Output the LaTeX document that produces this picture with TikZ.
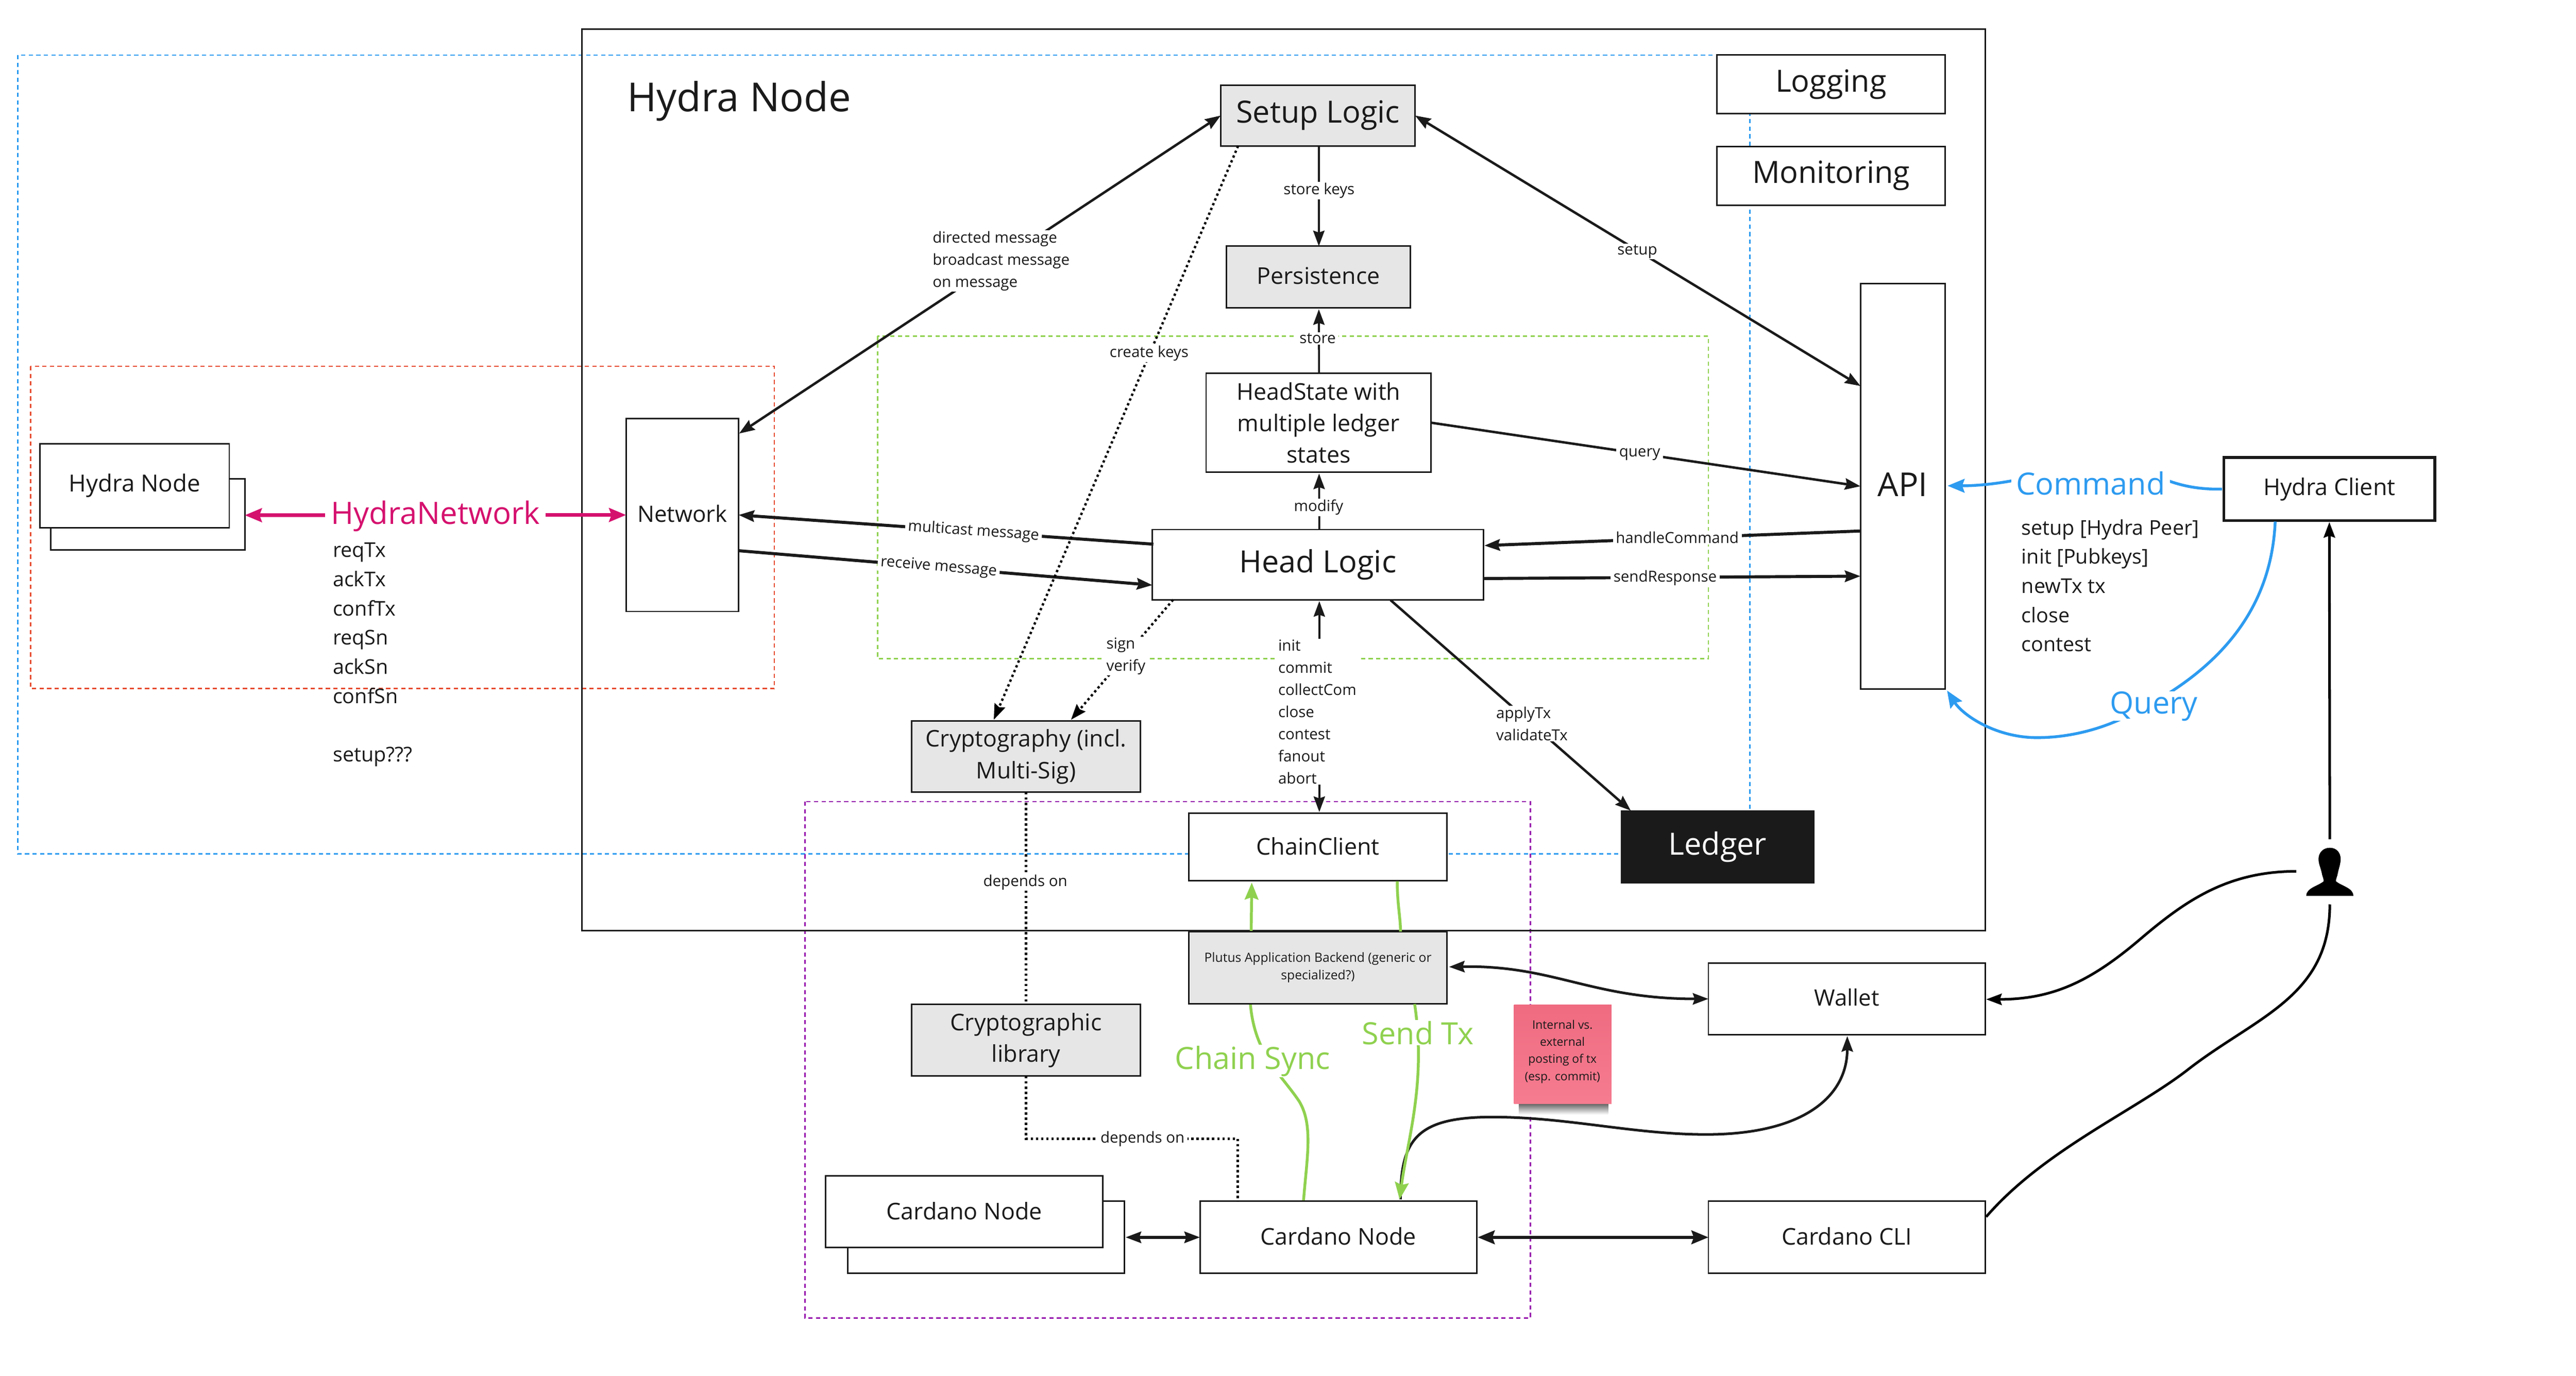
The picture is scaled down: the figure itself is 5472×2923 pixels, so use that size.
\documentclass[tikz,border=0pt]{standalone}
\usepackage{fontspec}
\setmainfont{Open Sans}
\usetikzlibrary{arrows.meta,calc}
\definecolor{ink}{HTML}{1A1A1A}
\definecolor{grayfill}{HTML}{E6E6E6}
\definecolor{bluec}{HTML}{2D9BF0}
\definecolor{redc}{HTML}{E6492D}
\definecolor{greenc}{HTML}{8FD14F}
\definecolor{purplec}{HTML}{9510AC}
\definecolor{pinkc}{HTML}{D5116E}
\definecolor{notea}{HTML}{EF6B80}
\definecolor{noteb}{HTML}{F67C90}
\tikzset{
  fs/.style 2 args={font=\fontsize{#1}{#2}\selectfont},
  tip/.tip={Stealth[length=33pt,width=24pt,inset=4pt]},
  bigtip/.tip={Stealth[length=36pt,width=29pt,inset=5pt]},
  boxn/.style={draw=ink,line width=3.2pt,fill=white,inner sep=0pt,outer sep=0pt,anchor=north west,text=ink,align=center},
  grayn/.style={boxn,fill=grayfill},
  blab/.style={fs={32.3}{47},fill=white,inner xsep=6pt,inner ysep=2pt,text=ink,align=left},
  flab/.style={fs={43.2}{62},inner sep=0pt,text=ink,align=left,anchor=north west},
  conn/.style={draw=ink,line width=5.2pt,tip-tip},
  thinconn/.style={draw=ink,line width=4.2pt,-tip},
  thick conn/.style={draw=ink,line width=6.5pt},
  dots/.style={draw=black,line width=5pt,dash pattern=on 5pt off 6pt},
  region/.style={line width=3pt,dash pattern=on 9pt off 7pt},
  greenline/.style={draw=greenc,line width=6pt},
  blueline/.style={draw=bluec,line width=6pt},
  pinkline/.style={draw=pinkc,line width=8pt,-bigtip},
}
\newcommand{\bx}[7]{\pgfmathsetmacro{\bw}{#4-#2}\pgfmathsetmacro{\bh}{#5-#3}
  \node[#6,minimum width=\bw pt,minimum height=\bh pt] (#1) at (#2,#3) {#7};}
\newcommand{\up}[2]{\raisebox{#1pt}{#2}}
\begin{document}
\begin{tikzpicture}[x=1pt,y=-1pt]
\useasboundingbox (0,0) rectangle (5472,2923);
\fill[white] (0,0) rectangle (5472,2923);
% regions
\draw[region,draw=bluec] (38,117) rectangle (3717,1814);
\draw[region,draw=redc] (65,778) rectangle (1645,1463);
\draw[region,draw=greenc] (1864,714) rectangle (3629,1399);
\draw[region,draw=purplec] (1710,1703) rectangle (3251,2800);
\draw[ink,line width=3pt] (1236,62) rectangle (4217,1977);
\node[fs={85}{100},text=ink,inner sep=0pt] (title) at (1570,215) {Hydra Node};
% green behind Plutus
\draw[greenline,-bigtip] (2769,2550) .. controls (2776,2460) and (2790,2390) .. (2760,2340) .. controls (2720,2280) and (2665,2240) .. (2656,2132) -- (2659,1875);
% boxes
\bx{hnb}{108}{1017}{520}{1168}{boxn}{}
\bx{hn}{85}{943}{487}{1121}{boxn,fs={50}{66}}{Hydra Node}
\bx{net}{1330}{889}{1569}{1299}{boxn,fs={48}{66}}{\up{6}{Network}}
\bx{setup}{2593}{181}{3006}{310}{grayn,fs={65}{80}}{Setup Logic}
\bx{pers}{2605}{523}{2996}{654}{grayn,fs={49}{66}}{\up{6}{Persistence}}
\bx{hs}{2562}{793}{3040}{1003}{boxn,fs={49}{66.6}}{HeadState with\\multiple ledger\\states}
\bx{hl}{2448}{1125}{3151}{1274}{boxn,fs={65}{80}}{Head Logic}
\bx{log}{3647}{117}{4132}{241}{boxn,fs={65}{80}}{Logging}
\bx{mon}{3647}{311}{4132}{436}{boxn,fs={65}{80}}{Monitoring}
\bx{api}{3952}{602}{4132}{1464}{boxn,fs={70}{80}}{\up{7}{API}}
\bx{hc}{4724}{972}{5172}{1106}{boxn,line width=6pt,fs={49}{66}}{\up{-2}{Hydra Client}}
\bx{cry}{1937}{1532}{2422}{1683}{grayn,fs={48.7}{67}}{\up{3}{Cryptography (incl.}\\\up{3}{Multi-Sig)}}
\bx{cc}{2525}{1727}{3074}{1871}{boxn,fs={49}{66}}{\up{4}{ChainClient}}
\bx{led}{3444}{1723}{3853}{1875}{boxn,draw=ink,fill=ink,text=white,fs={65}{80}}{Ledger}
\bx{pab}{2525}{1979}{3074}{2132}{grayn,fs={27}{37}}{Plutus Application Backend (generic or\\specialized?)}
\bx{lib}{1937}{2134}{2422}{2286}{grayn,fs={49}{67}}{Cryptographic\\library}
\bx{cnb}{1801}{2552}{2389}{2705}{boxn}{}
\bx{cnf}{1754}{2498}{2343}{2650}{boxn,fs={49}{66}}{\up{4}{Cardano Node}}
\bx{cn}{2549}{2552}{3137}{2705}{boxn,fs={49}{66}}{\up{6}{Cardano Node}}
\bx{wal}{3629}{2046}{4217}{2198}{boxn,fs={48}{66}}{\up{6}{Wallet}}
\bx{cli}{3629}{2552}{4217}{2705}{boxn,fs={49}{66}}{\up{6}{Cardano CLI}}
% sticky note
\shade[top color=black!60,bottom color=white] (3226,2345) rectangle (3416,2368);
\shade[top color=notea,bottom color=noteb] (3216,2135) rectangle (3423,2345);
\node[fs={25}{36.5},text=ink,align=center,inner sep=0pt] (note) at (3319,2234) {Internal vs.\\external\\posting of tx\\(esp. commit)};
% user icon
\node[minimum width=100pt,minimum height=102pt,inner sep=0pt] (user) at (4949,1852) {};
\fill[black] (4949,1801) .. controls (4934,1801) and (4925,1812) .. (4925,1825) .. controls (4925,1835) and (4930,1845) .. (4932,1855) .. controls (4933,1862) and (4936,1866) .. (4936,1872) .. controls (4925,1882) and (4899,1886) .. (4899,1903) -- (4999,1903) .. controls (4999,1886) and (4973,1882) .. (4962,1872) .. controls (4962,1866) and (4965,1862) .. (4966,1855) .. controls (4968,1845) and (4972,1835) .. (4972,1825) .. controls (4972,1812) and (4964,1801) .. (4949,1801) -- cycle;
% connectors
\draw[conn] ($(net.north east)+(1,32)$) -- (setup.west);
\draw[conn] (setup.east) -- ($(api.north west)+(0,218)$);
\draw[thinconn] ($(setup.south)+(2,0)$) -- ($(pers.north)+(1,0)$);
\draw[thinconn] ($(hs.north)+(1,0)$) -- ($(pers.south)+(1,3)$);
\draw[thinconn] ($(hl.north)+(3,0)$) -- ($(hs.south)+(1,3)$);
\draw[conn,-tip] (hs.east) -- ($(api.north west)+(0,431)$);
\draw[thick conn,-tip] ($(api.north west)+(0,526)$) -- ($(hl.north east)+(2,34)$);
\draw[thick conn,-tip] ($(hl.north east)+(2,104)$) -- ($(api.north west)+(0,622)$);
\draw[thick conn,-tip] ($(hl.north west)+(2,31)$) -- (net.east);
\draw[thick conn,-tip] ($(net.east)+(1,76)$) -- ($(hl.north west)+(0,118)$);
\draw[dots,-tip] ($(setup.south west)+(37,0)$) -- ($(cry.north west)+(174,-3)$);
\draw[dots,-tip] ($(hl.south west)+(44,0)$) -- ($(cry.north west)+(338,-3)$);
\draw[dots] (cry.south) -- (lib.north);
\draw[dots] (lib.south) -- ++(0,133) -| ($(cn.north west)+(80,0)$);
\draw[thinconn,tip-tip] ($(hl.south)+(3,3)$) -- ($(cc.north)+(3,-2)$);
\draw[conn,-tip] ($(hl.south east)+(-197,1)$) -- ($(led.north west)+(20,-1)$);
\draw[draw=ink,line width=5.5pt,tip-tip] ($(pab.north east)+(4,75)$) .. controls (3300,2050) and (3380,2122) .. (wal.west);
\draw[draw=ink,line width=5.5pt,-tip] ($(cn.north west)+(426,-4)$) .. controls (2975,2420) and (3010,2373) .. (3170,2373) .. controls (3330,2373) and (3470,2410) .. (3624,2410) .. controls (3830,2410) and (3924,2330) .. ($(wal.south)+(1,3)$);
\draw[greenline] ($(cc.south east)+(-106,1)$) .. controls (2968,1920) and (2975,1950) .. ($(pab.north east)+(-99,0)$);
\draw[greenline,-bigtip] ($(pab.south east)+(-69,1)$) .. controls (3030,2300) and (2990,2420) .. ($(cn.north west)+(424,-4)$);
\draw[draw=ink,line width=6pt,tip-tip] ($(cnb.east)+(2,0)$) -- (cn.west);
\draw[draw=ink,line width=6.5pt,bigtip-bigtip] ($(cn.east)+(2,0)$) -- (cli.west);
\draw[draw=black,line width=5.5pt,-tip] ($(user.west)+(-21,-1)$) .. controls (4730,1851) and (4640,1915) .. (4544,1997) .. controls (4440,2085) and (4360,2123) .. ($(wal.east)+(2,1)$);
\draw[draw=black,line width=5.5pt,-tip] ($(user.north)+(0,-18)$) -- ($(hc.south)+(0,3)$);
\draw[draw=black,line width=5.5pt] ($(user.south)+(0,18)$) .. controls (4949,2120) and (4790,2160) .. (4644,2275) .. controls (4530,2362) and (4340,2445) .. ($(cli.north east)+(2,33)$);
\draw[blueline,-bigtip] ($(hc.west)+(-4,0)$) .. controls (4670,1040) and (4630,1032) .. (4590,1015) -- (4320,1012) .. controls (4250,1028) and (4200,1032) .. ($(api.east)+(5,-1)$);
\draw[blueline,-bigtip] ($(hc.south west)+(109,2)$) .. controls (4825,1290) and (4720,1430) .. (4500,1530) .. controls (4450,1552) and (4390,1567) .. (4327,1567) .. controls (4240,1567) and (4170,1520) .. ($(api.south east)+(4,3)$);
\coordinate (pinkmid) at (925,1094);
\draw[pinkline] (pinkmid) -- ($(hnb.east)+(0,2)$);
\draw[pinkline] (pinkmid) -- (net.west);
% labels
\node[fs={65.5}{80},text=pinkc,fill=white,inner xsep=12pt,inner ysep=4pt] (hnet) at (925,1097) {HydraNetwork};
\node[flab] (msgs) at (707,1153) {reqTx\\ackTx\\confTx\\reqSn\\ackSn\\confSn\\[62pt]setup???};
\node[flab] (cmds) at (4294,1103) {setup [Hydra Peer]\\init [Pubkeys]\\newTx tx\\close\\contest};
\node[fs={65}{80},text=bluec,fill=white,inner xsep=10pt,inner ysep=2pt] (cmd) at (4441,1027) {Command};
\node[fs={65}{80},text=bluec,fill=white,inner xsep=10pt,inner ysep=0pt] (qry) at (4575,1500) {Query};
\node[fs={65}{75},text=greenc,fill=white,inner xsep=12pt,inner ysep=2pt] (csync) at (2661,2254) {Chain Sync};
\node[fs={65}{75},text=greenc,fill=white,inner xsep=12pt,inner ysep=2pt] (stx) at (3012,2194) {Send Tx};
\node[blab,anchor=north west] (dm) at (1975,489) {directed message\\broadcast message\\on message};
\node[blab] (skl) at (2802,405) {store keys};
\node[blab] (setl) at (3478,534) {setup};
\node[blab] (stl) at (2799,719) {store};
\node[blab] (mod) at (2801,1078) {modify};
\node[blab] (ql) at (3483,965) {query};
\node[blab] (hcl) at (3563,1142) {handleCommand};
\node[blab] (srl) at (3537,1228) {sendResponse};
\node[blab,rotate=-4] (mcl) at (2068,1129) {multicast message};
\node[blab,rotate=-4.7] (rml) at (1994,1205) {receive message};
\node[blab] (ckl) at (2441,751) {create keys};
\node[blab,anchor=north west] (svl) at (2344,1352) {sign\\verify};
\node[blab] (dol) at (2178,1874) {depends on};
\node[blab] (dol2) at (2427,2420) {depends on};
\node[blab,anchor=north west] (chl) at (2709,1357) {init\\commit\\collectCom\\close\\contest\\fanout\\abort};
\node[blab,anchor=north west] (apl) at (3172,1499) {applyTx\\validateTx};
\end{tikzpicture}
\end{document}
